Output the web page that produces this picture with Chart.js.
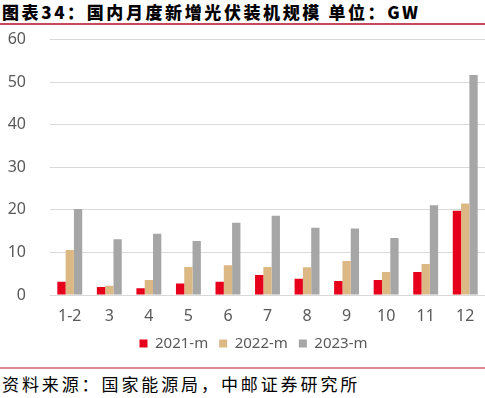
<!DOCTYPE html>
<html>
<head>
<meta charset="utf-8">
<script src="https://cdn.jsdelivr.net/npm/chart.js@4/dist/chart.umd.min.js"></script>
<style>
    html, body { margin: 0; padding: 0; background: #fff; overflow: hidden; }
    body { width: 485px; height: 398px; position: relative; }
    .title {
        position: absolute; left: 2px; top: 1px;
        font-family: "Noto Sans CJK SC", sans-serif; font-weight: 900;
        font-size: 17px; line-height: 22px; letter-spacing: 2.6px; color: #000;
        white-space: nowrap;
    }
    .line-top { position: absolute; left: 0; top: 23px; width: 485px; height: 2px; background: #c8475c; }
    .line-bottom { position: absolute; left: 0; top: 367px; width: 485px; height: 2px; background: #d98a90; }
    .source {
        position: absolute; left: 2px; top: 373px;
        font-family: "Noto Sans CJK SC", sans-serif; font-weight: 400;
        font-size: 17px; line-height: 22px; letter-spacing: 2.9px; color: #000;
        white-space: nowrap;
    }
    #chart { position: absolute; left: 0; top: 6px; display: block; }
</style>
</head>
<body>
<div class="title">图表34：国内月度新增光伏装机规模 单位：GW</div>
<div class="line-top"></div>
<canvas id="chart" width="485" height="355"></canvas>
<div class="line-bottom"></div>
<div class="source">资料来源：国家能源局，中邮证券研究所</div>

<script>
// 月份分类
const months = ['1-2', '3', '4', '5', '6', '7', '8', '9', '10', '11', '12'];

// 各年度月度新增装机 (GW)
const values2021 = [3.1, 1.9, 1.6, 2.7, 3.1, 4.7, 3.8, 3.3, 3.5, 5.4, 19.8];
const values2022 = [10.6, 2.2, 3.5, 6.6, 7.0, 6.6, 6.5, 8.0, 5.4, 7.3, 21.5];
const values2023 = [20.2, 13.1, 14.4, 12.7, 17.0, 18.6, 15.8, 15.6, 13.4, 21.1, 51.7];

const seriesNames = ['2021-m', '2022-m', '2023-m'];
const seriesColors = ['#e6001b', '#dbb884', '#a6a6a6'];

const axisFont = { family: '"Noto Sans", sans-serif', size: 16 };
const legendFont = { family: '"Noto Sans", sans-serif', size: 15 };

// 图例整体右移一点（原图图例不在画布正中）
const legendShift = {
    id: 'legendShift',
    afterLayout(chart) {
        if (chart.legend) {
            chart.legend.left += 11;
            chart.legend.right += 11;
        }
    }
};

const ctx = document.getElementById('chart').getContext('2d');

new Chart(ctx, {
    type: 'bar',
    data: {
        labels: months,
        datasets: [values2021, values2022, values2023].map((data, i) => ({
            label: seriesNames[i],
            data: data,
            backgroundColor: seriesColors[i],
            borderWidth: 0,
            categoryPercentage: 0.63,
            barPercentage: 1.0
        }))
    },
    plugins: [legendShift],
    options: {
        responsive: false,
        animation: false,
        layout: {
            padding: { left: 0, right: 0, top: 0, bottom: 0 }
        },
        plugins: {
            legend: {
                position: 'bottom',
                labels: {
                    boxWidth: 8,
                    boxHeight: 8,
                    padding: 11,
                    color: '#595959',
                    font: legendFont
                }
            },
            tooltip: { enabled: false }
        },
        scales: {
            x: {
                afterFit: function(scale) { scale.height = 30; },
                grid: { display: false },
                border: { display: false },
                ticks: {
                    color: '#595959',
                    font: axisFont,
                    padding: 4,
                    maxRotation: 0
                }
            },
            y: {
                min: 0,
                max: 60,
                afterFit: function(scale) { scale.width = 50; },
                grid: { color: '#d9d9d9', lineWidth: 1, drawTicks: false },
                border: { display: false },
                ticks: {
                    stepSize: 10,
                    color: '#595959',
                    font: axisFont,
                    padding: 24
                }
            }
        }
    }
});
</script>
</body>
</html>
